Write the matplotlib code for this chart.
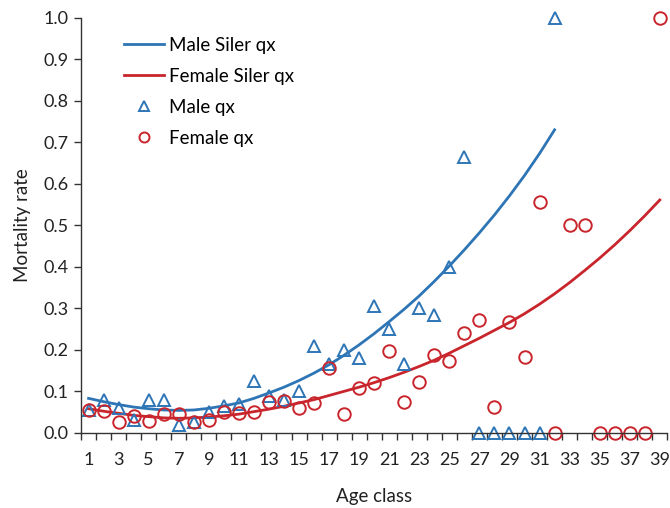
import numpy as np
import matplotlib.pyplot as plt
from matplotlib.ticker import FixedLocator, FormatStrFormatter

plt.rcParams['font.family'] = ['Lato', 'DejaVu Sans']

# observed mortality rates by age class
male_age = list(range(1, 33))
male_qx = [0.055, 0.08, 0.06, 0.03, 0.08, 0.08, 0.018, 0.025, 0.05, 0.065,
           0.07, 0.125, 0.088, 0.08, 0.10, 0.21, 0.165, 0.20, 0.18, 0.305,
           0.25, 0.165, 0.30, 0.285, 0.40, 0.665, 0.0, 0.0, 0.0, 0.0,
           0.0, 1.0]

female_age = list(range(1, 40))
female_qx = [0.055, 0.052, 0.025, 0.04, 0.028, 0.045, 0.045, 0.025, 0.03, 0.05,
             0.047, 0.05, 0.075, 0.077, 0.06, 0.072, 0.155, 0.045, 0.108, 0.12,
             0.197, 0.075, 0.122, 0.187, 0.172, 0.24, 0.273, 0.063, 0.267, 0.182,
             0.557, 0.0, 0.5, 0.5, 0.0, 0.0, 0.0, 0.0, 1.0]

# fitted Siler curves
male_siler = [0.083, 0.075, 0.068, 0.062, 0.058, 0.055, 0.054, 0.055, 0.059, 0.065,
              0.072, 0.083, 0.096, 0.110, 0.126, 0.144, 0.164, 0.187, 0.212, 0.239,
              0.268, 0.298, 0.330, 0.365, 0.402, 0.441, 0.482, 0.525, 0.571, 0.620,
              0.673, 0.730]
female_siler = [0.058, 0.052, 0.047, 0.042, 0.039, 0.036, 0.035, 0.036, 0.038, 0.041,
                0.045, 0.051, 0.057, 0.064, 0.072, 0.080, 0.090, 0.100, 0.110, 0.121,
                0.133, 0.146, 0.160, 0.175, 0.192, 0.210, 0.228, 0.247, 0.266, 0.287,
                0.310, 0.335, 0.362, 0.391, 0.421, 0.453, 0.487, 0.523, 0.561]

blue = '#2E75B6'
red = '#C9252C'

fig = plt.figure(figsize=(6.7, 5.08), dpi=100)
ax = fig.add_axes([0.121, 0.148, 0.875, 0.817])

ax.plot(male_age, male_siler, color=blue, lw=2, label='Male Siler qx')
ax.plot(female_age, female_siler, color=red, lw=2, label='Female Siler qx')
ax.plot(male_age, male_qx, ls='none', marker='^', ms=9, mfc='none', mec=blue,
        mew=1.4, label='Male qx', clip_on=False)
ax.plot(female_age, female_qx, ls='none', marker='o', ms=9, mfc='none', mec=red,
        mew=1.4, label='Female qx', clip_on=False)

ax.set_xlim(0.5, 39.5)
ax.set_ylim(0, 1.0)
ax.set_yticks(np.arange(0, 1.01, 0.1))
ax.yaxis.set_major_formatter(FormatStrFormatter('%.1f'))
ax.set_xticks(range(1, 40, 2))
ax.xaxis.set_minor_locator(FixedLocator(np.arange(0.5, 40, 1)))
ax.tick_params(axis='x', which='major', length=0, pad=14, labelsize=13, colors='#222222')
ax.tick_params(axis='x', which='minor', length=5, width=1, color='#333333')
ax.tick_params(axis='y', length=5, width=1, color='#333333', labelsize=13,
               labelcolor='#222222', pad=4)

for s in ['top', 'right']:
    ax.spines[s].set_visible(False)
for s in ['left', 'bottom']:
    ax.spines[s].set_color('#333333')
    ax.spines[s].set_linewidth(1)

ax.set_xlabel('Age class', fontsize=13.5, labelpad=14, color='#222222')
ax.set_ylabel('Mortality rate', fontsize=13.5, labelpad=9, color='#222222')

ax.legend(loc='upper left', bbox_to_anchor=(0.045, 0.995), frameon=False,
          fontsize=13.5, handlelength=2.1, handletextpad=0.3, labelspacing=0.75,
          markerscale=0.8)

fig.savefig('out.png', dpi=100)
